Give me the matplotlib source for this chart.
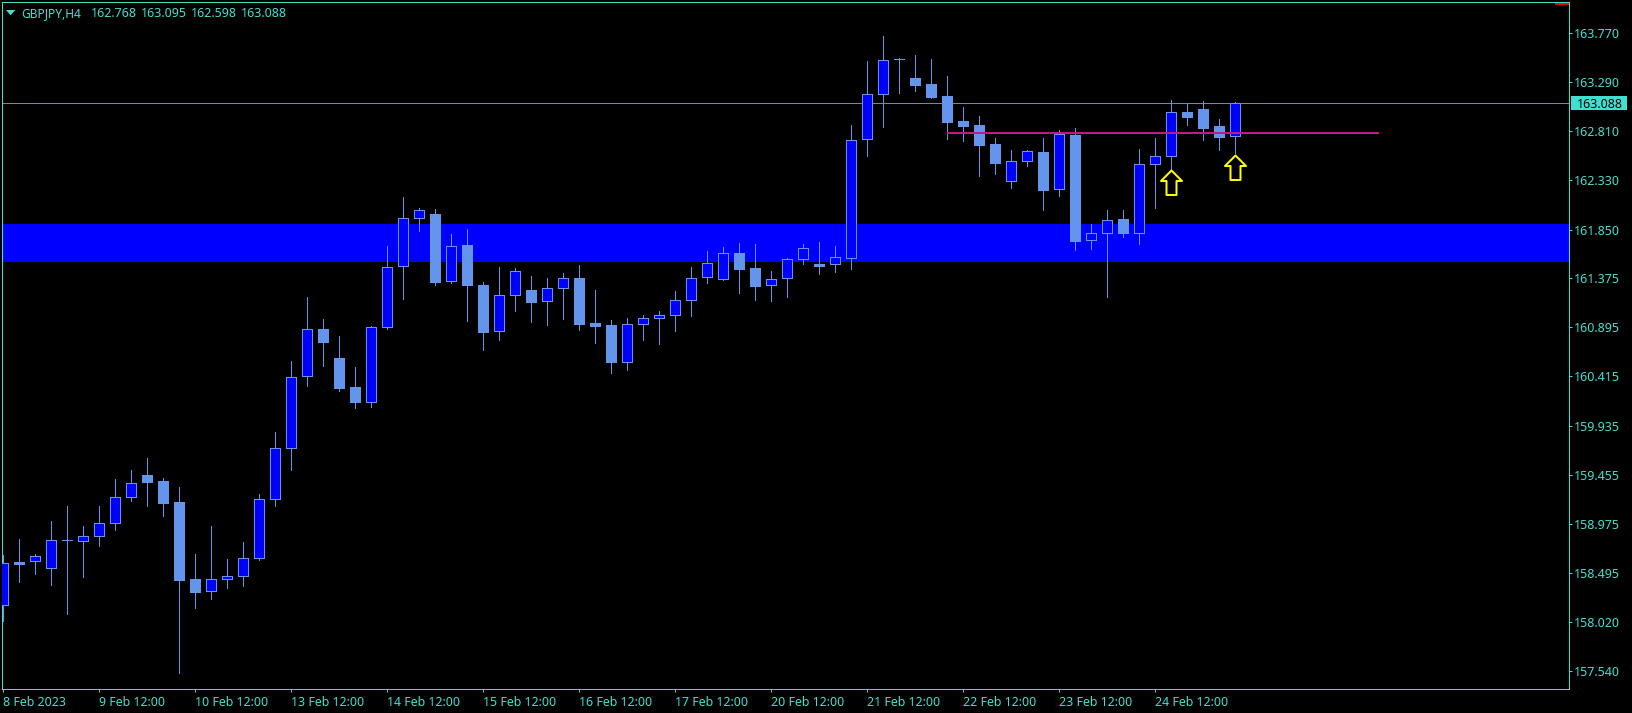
import numpy as np
import matplotlib
matplotlib.use("Agg")
import matplotlib.pyplot as plt
from matplotlib.patches import Polygon, Rectangle
from matplotlib.path import Path

# GBPJPY H4 candles
opens = [158.178, 158.605, 158.608, 158.540, 158.820, 158.804, 158.852, 158.979, 159.234, 159.455,
         159.396, 159.191, 158.439, 158.315, 158.432, 158.462, 158.638, 159.214, 159.711, 160.415,
         160.877, 160.594, 160.314, 160.161, 160.893, 161.489, 161.958, 162.004, 161.343, 161.701,
         161.310, 160.854, 161.206, 161.261, 161.147, 161.275, 161.379, 160.939, 160.920, 160.551,
         160.923, 160.981, 161.011, 161.157, 161.382, 161.362, 161.623, 161.476, 161.304, 161.372,
         161.558, 161.516, 161.509, 161.568, 162.731, 163.170, 163.519, 163.333, 163.275, 163.157,
         162.913, 162.874, 162.688, 162.320, 162.516, 162.610, 162.242, 162.776, 161.744, 161.812,
         161.956, 161.812, 162.486, 162.565, 163.001, 163.030, 162.864, 162.768]
highs = [158.673, 158.830, 158.683, 159.006, 159.152, 158.957, 159.152, 159.416, 159.504, 159.621,
         159.426, 159.338, 158.683, 158.957, 158.634, 158.800, 159.269, 159.874, 160.568, 161.193,
         160.975, 160.812, 160.509, 160.910, 161.691, 162.170, 162.063, 162.053, 161.809, 161.858,
         161.340, 161.486, 161.476, 161.398, 161.379, 161.428, 161.506, 161.261, 160.968, 160.988,
         161.017, 161.056, 161.252, 161.486, 161.643, 161.682, 161.721, 161.711, 161.447, 161.574,
         161.711, 161.730, 161.691, 162.874, 163.499, 163.744, 163.529, 163.558, 163.519, 163.353,
         163.050, 162.962, 162.747, 162.630, 162.630, 162.747, 162.825, 162.845, 161.907, 162.044,
         162.044, 162.640, 162.747, 163.118, 163.079, 163.109, 162.933, 163.095]
lows = [158.029, 158.410, 158.488, 158.380, 158.097, 158.458, 158.761, 158.918, 159.201, 159.152,
        159.054, 157.520, 158.156, 158.243, 158.351, 158.370, 158.624, 159.152, 159.504, 160.324,
        160.512, 160.268, 160.102, 160.112, 160.880, 161.174, 161.838, 161.310, 161.330, 160.959,
        160.675, 160.773, 161.056, 160.949, 160.920, 160.978, 160.871, 160.744, 160.451, 160.480,
        160.773, 160.734, 160.861, 161.007, 161.330, 161.360, 161.232, 161.164, 161.154, 161.193,
        161.516, 161.418, 161.437, 161.467, 162.571, 162.855, 163.187, 163.206, 163.138, 162.737,
        162.718, 162.376, 162.395, 162.258, 162.473, 162.044, 162.174, 161.653, 161.662, 161.193,
        161.780, 161.711, 162.063, 162.430, 162.874, 162.727, 162.630, 162.598]
closes = [158.592, 158.585, 158.660, 158.817, 158.813, 158.856, 158.983, 159.237, 159.374, 159.387,
          159.181, 158.429, 158.312, 158.436, 158.465, 158.641, 159.217, 159.715, 160.408, 160.877,
          160.747, 160.304, 160.161, 160.897, 161.483, 161.962, 162.040, 161.340, 161.688, 161.310,
          160.851, 161.209, 161.444, 161.144, 161.278, 161.375, 160.929, 160.910, 160.558, 160.926,
          160.985, 161.014, 161.161, 161.375, 161.522, 161.620, 161.467, 161.301, 161.366, 161.561,
          161.669, 161.496, 161.581, 162.724, 163.174, 163.506, 163.512, 163.265, 163.148, 162.903,
          162.864, 162.679, 162.503, 162.519, 162.617, 162.239, 162.786, 161.741, 161.816, 161.943,
          161.819, 162.490, 162.568, 162.998, 162.952, 162.845, 162.757, 163.088]

price_ticks = [163.770, 163.290, 162.810, 162.330, 161.850, 161.375, 160.895,
               160.415, 159.935, 159.455, 158.975, 158.495, 158.020, 157.540]
time_ticks = [0, 6, 12, 18, 24, 30, 36, 42, 48, 54, 60, 66, 72]
time_labels = ["8 Feb 2023", "9 Feb 12:00", "10 Feb 12:00", "13 Feb 12:00", "14 Feb 12:00",
               "15 Feb 12:00", "16 Feb 12:00", "17 Feb 12:00", "20 Feb 12:00", "21 Feb 12:00",
               "22 Feb 12:00", "23 Feb 12:00", "24 Feb 12:00"]

symbol = "GBPJPY,H4"
last_price = 163.088
zone_low, zone_high = 161.535, 161.907
trend_x = [59, 86]
trend_y = [162.789, 162.789]
arrow_x = [73, 77]
arrow_y = [162.428, 162.581]

TURQ = "#40E0D0"
BULL = "#0000FF"
BEAR = "#6495ED"
W, H = 1633, 713

plt.rcParams["font.family"] = ["Noto Sans", "DejaVu Sans"]

fig = plt.figure(figsize=(W / 100, H / 100), dpi=100, facecolor="black")
ax = fig.add_axes([2.5 / W, 1 - 689.3 / H, (1569.3 - 2.5) / W, (689.3 - 2.3) / H], facecolor="black")
ax.set_xlim(-0.06, 97.87)
ax.set_ylim(157.358, 164.070)

# zone and last price line sit behind the candles
ax.axhspan(zone_low, zone_high, color=BULL, lw=0, zorder=1)
ax.axhline(last_price, color="#778899", lw=0.72, zorder=1.5)

o = np.array(opens)
c = np.array(closes)
x = np.arange(len(o))
ax.vlines(x, lows, highs, color=BEAR, lw=0.72, antialiased=False, zorder=3)
fills = [BULL if cc > oo else BEAR for oo, cc in zip(o, c)]
ax.bar(x, np.abs(c - o), bottom=np.minimum(o, c), width=10 / 16, color=fills,
       edgecolor=BEAR, linewidth=0.72, antialiased=False, zorder=3)

ax.plot(trend_x, trend_y, color="#C71585", lw=1.44, solid_capstyle="butt", zorder=4)

# up arrow, tip at the origin so the point lands on the price
# (custom markers span markersize/2 when the origin is at one end)
arrow_verts = [(0, 0), (10.5, -10.5), (5, -10.5), (5, -24.5), (-5, -24.5), (-5, -10.5), (-10.5, -10.5), (0, 0)]
arrow = Path(arrow_verts, closed=True)
ax.plot(arrow_x, arrow_y, ls="none", marker=arrow, markersize=35.28, markerfacecolor="black",
        markeredgecolor="#FFFF00", markeredgewidth=1.44, zorder=5)

for s in ax.spines.values():
    s.set_color(TURQ)
    s.set_linewidth(0.72)
    s.set_zorder(2)

ax.yaxis.tick_right()
ax.set_yticks(price_ticks)
ax.set_yticklabels([f"{p:.3f}" for p in price_ticks])
ax.set_xticks(time_ticks)
ax.set_xticklabels(time_labels, ha="left")
ax.tick_params(axis="y", length=2.2, width=0.72, color=TURQ, labelcolor=TURQ, labelsize=9, pad=1.4)
ax.tick_params(axis="x", length=2.2, width=0.72, color=TURQ, labelcolor=TURQ, labelsize=8.9, pad=2.5)

# current price tag on the axis
fig.add_artist(Rectangle((1571 / W, 1 - 110 / H), 56 / W, 14 / H, fc=TURQ, ec="none",
                         transform=fig.transFigure))
fig.text(1576.7 / W, 1 - 107.6 / H, f"{last_price:.3f}", color="black", fontsize=9, va="baseline")

# header: small triangle, symbol, then the OHLC of the last bar
fig.add_artist(Polygon([(6 / W, 1 - 10 / H), (15.3 / W, 1 - 10 / H), (10.6 / W, 1 - 15.3 / H)],
                       closed=True, fc=TURQ, ec="none", transform=fig.transFigure))
fig.text(21 / W, 1 - 17.3 / H, symbol, color=TURQ, fontsize=8.6, va="baseline")
last_bar = [opens[-1], highs[-1], lows[-1], closes[-1]]
for i, v in enumerate(last_bar):
    fig.text((90.7 + i * 49.9) / W, 1 - 17.3 / H, f"{v:.3f}", color=TURQ, fontsize=9, va="baseline")

# red mark in the top right corner
fig.add_artist(Rectangle((1555 / W, 1 - 5 / H), 14 / W, 2.2 / H, fc="#FF0000", ec="none",
                         transform=fig.transFigure))

fig.savefig("out.png", dpi=100, facecolor="black")
